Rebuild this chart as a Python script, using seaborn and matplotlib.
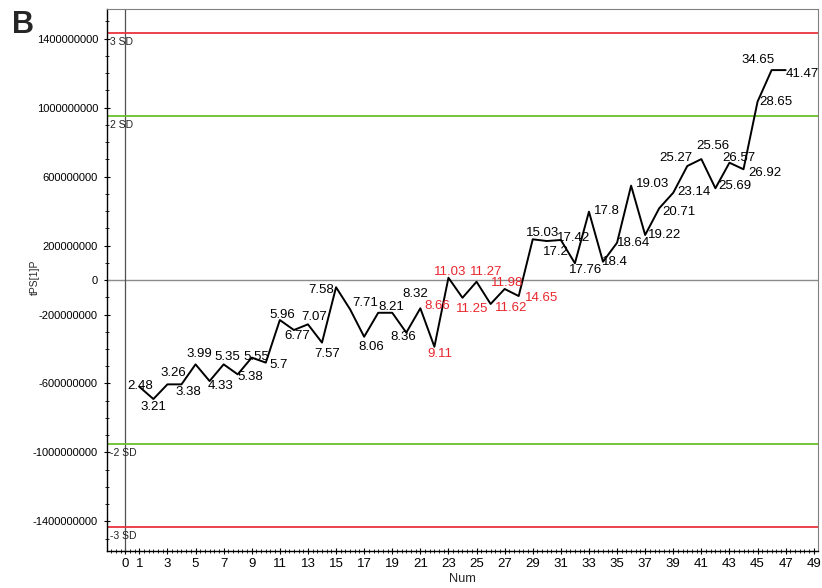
import matplotlib
matplotlib.use("Agg")
import matplotlib.pyplot as plt
import matplotlib.transforms as mtransforms
from matplotlib import font_manager
from matplotlib.ticker import MultipleLocator
import seaborn as sns
import pandas as pd

# sample number and score values
num = list(range(1, 48))
tps = [-6.19e8, -6.90e8, -6.05e8, -6.05e8, -4.89e8, -5.86e8, -4.89e8, -5.47e8,
       -4.50e8, -4.79e8, -2.32e8, -2.90e8, -2.57e8, -3.63e8, -0.42e8, -1.70e8,
       -3.29e8, -1.90e8, -1.90e8, -3.05e8, -1.64e8, -3.87e8, 0.13e8, -1.03e8,
       -0.10e8, -1.39e8, -0.52e8, -0.93e8, 2.36e8, 2.26e8, 2.32e8, 0.97e8,
       3.96e8, 1.06e8, 2.16e8, 5.47e8, 2.61e8, 4.16e8, 5.06e8, 6.61e8,
       7.01e8, 5.32e8, 6.80e8, 6.42e8, 10.34e8, 12.17e8, 12.17e8]
ages = ["2.48", "3.21", "3.26", "3.38", "3.99", "4.33", "5.35", "5.38", "5.55",
        "5.7", "5.96", "6.77", "7.07", "7.57", "7.58", "7.71", "8.06", "8.21",
        "8.32", "8.36", "8.66", "9.11", "11.03", "11.25", "11.27", "11.62",
        "11.98", "14.65", "15.03", "17.2", "17.42", "17.76", "17.8", "18.4",
        "18.64", "19.03", "19.22", "20.71", "23.14", "25.27", "25.56", "25.69",
        "26.57", "26.92", "28.65", "34.65", "41.47"]
red_ages = ["8.66", "9.11", "11.03", "11.25", "11.27", "11.62", "11.98", "14.65"]

sd_names = ["3 SD", "2 SD", "-2 SD", "-3 SD"]
sd_values = [1.43e9, 0.953e9, -0.953e9, -1.43e9]
sd_colors = ["#e8353b", "#6cbf2a", "#6cbf2a", "#e8353b"]

x_ticks = [0] + list(range(1, 50, 2))
y_ticks = [1400000000, 1000000000, 600000000, 200000000, 0,
           -200000000, -600000000, -1000000000, -1400000000]

# label offsets from each point, in pixels (dx right, dy down)
label_off = [(1, -1), (0, 8), (6, -11), (7, 8), (4, -10), (11, 5), (4, -7),
             (13, 3), (5, -1), (13, 2), (2, -5), (3, 6), (6, -7), (5, 11),
             (-15, 3), (15, -6), (7, 10), (13, -6), (23, -19), (-3, 4),
             (17, -2), (5, 7), (2, -6), (10, 11), (10, -10), (21, 4), (2, -6),
             (23, 2), (10, -6), (9, 11), (13, -2), (11, 7), (18, -1), (12, 0),
             (17, 0), (21, -2), (19, 0), (20, 4), (21, -1), (-11, -8),
             (12, -13), (19, -2), (9, -5), (21, 4), (18, 0), (-14, -10),
             (17, 4)]

df = pd.DataFrame({"Num": num, "tPS": tps})

sns.set_style("ticks")
plt.rcParams["font.family"] = ["Liberation Sans", "DejaVu Sans"]
plt.rcParams["axes.unicode_minus"] = False

# the y tick labels in the original use a condensed face
installed = {f.name for f in font_manager.fontManager.ttflist}
if "Liberation Sans Narrow" in installed:
    ytick_font, ytick_size = "Liberation Sans Narrow", 9.5
else:
    ytick_font, ytick_size = "Liberation Sans", 8

fig = plt.figure(figsize=(8.22, 5.88), dpi=100)
ax = fig.add_axes([0.1302, 0.0621, 0.8649, 0.9234])

ax.axhline(0, color="#8c8c8c", lw=1.0, zorder=1)
ax.axvline(0, color="#505050", lw=0.9, zorder=1)

blend = mtransforms.blended_transform_factory(ax.transAxes, ax.transData)
for name, val, col in zip(sd_names, sd_values, sd_colors):
    ax.axhline(val, color=col, lw=1.3, zorder=1)
    ax.annotate(name, xy=(0, val), xycoords=blend, xytext=(3, -9),
                textcoords="offset pixels", ha="left", va="center",
                fontsize=7.5, color="#222222")

sns.lineplot(data=df, x="Num", y="tPS", color="black", lw=1.4, ax=ax, zorder=3)

for xi, yi, lab, (dx, dy) in zip(num, tps, ages, label_off):
    col = "#e8262d" if lab in red_ages else "black"
    ax.annotate(lab, xy=(xi, yi), xytext=(dx, -dy), textcoords="offset pixels",
                ha="center", va="center", fontsize=9.5, color=col, zorder=4)

ax.set_xlim(-1.3, 49.3)
ax.set_ylim(-1.574e9, 1.574e9)
ax.set_xticks(x_ticks)
ax.set_xticklabels([str(t) for t in x_ticks])
ax.set_yticks(y_ticks)
ax.set_yticklabels([str(t) for t in y_ticks], family=ytick_font)
ax.xaxis.set_minor_locator(MultipleLocator(1 / 3))
ax.yaxis.set_minor_locator(MultipleLocator(1e8))
ax.tick_params(which="major", direction="inout", length=5, width=0.8,
               colors="black")
ax.tick_params(which="minor", direction="inout", length=3.5, width=0.7)
ax.tick_params(axis="y", labelsize=ytick_size, pad=4)
ax.tick_params(axis="x", labelsize=9.5, pad=2)

ax.set_xlabel("Num", fontsize=9.2, labelpad=2)
ax.set_ylabel("tPS[1]P", fontsize=7.5)
ax.yaxis.set_label_coords(-0.094, 0.505)

for side in ["top", "right"]:
    ax.spines[side].set_color("#808080")
for side in ["left", "bottom"]:
    ax.spines[side].set_color("black")
    ax.spines[side].set_linewidth(1.0)

fig.text(0.014, 0.958, "B", fontsize=22, fontweight="bold", ha="left", va="center")

fig.savefig("out.png", dpi=100)
